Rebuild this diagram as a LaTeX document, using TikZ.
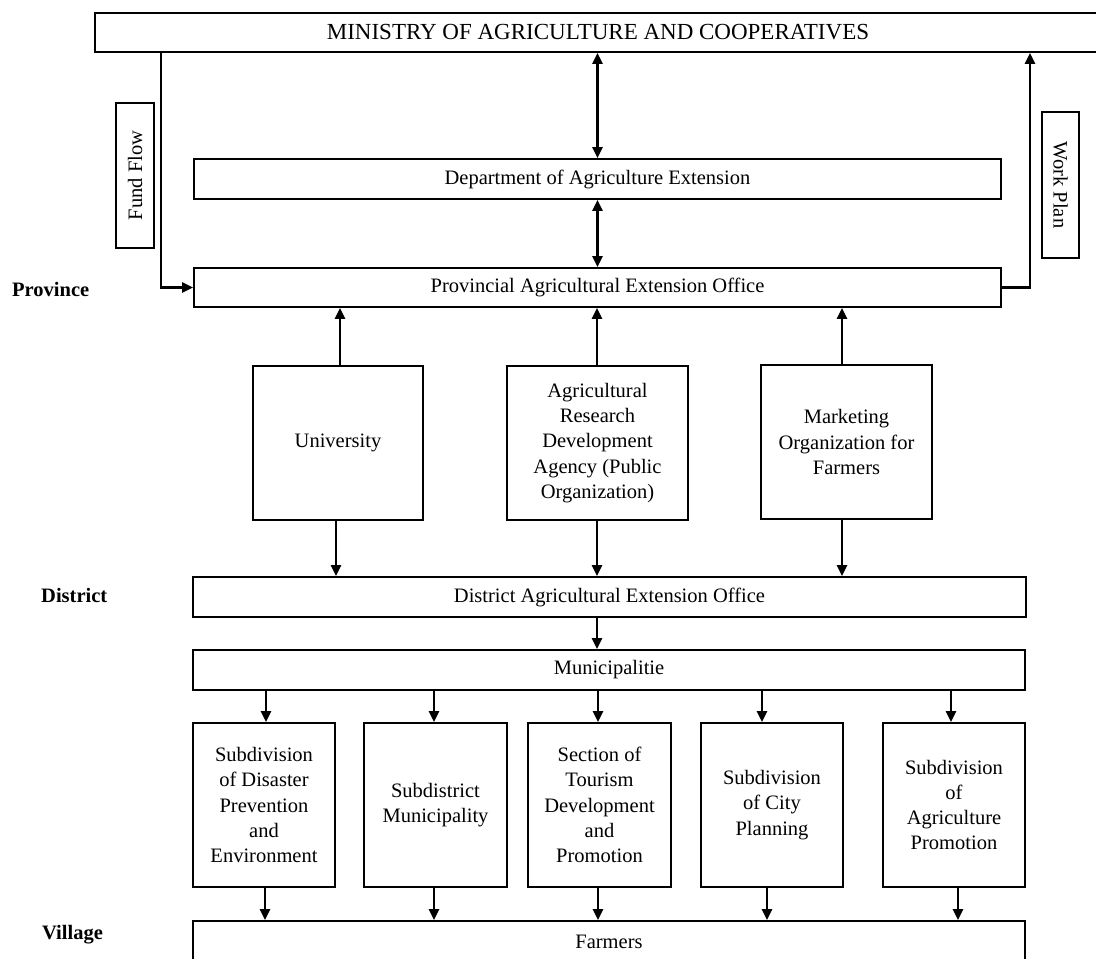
\documentclass[tikz,border=0pt]{standalone}
\usepackage{fontspec}
\setmainfont{Liberation Serif}
\usetikzlibrary{arrows.meta,calc}
\tikzset{
  box/.style={draw, line width=1.8pt, inner sep=0pt, align=center,
    font=\fontsize{20.5}{25.3}\selectfont},
  tip/.tip={Triangle[length=11pt,width=10pt]},
  arr/.style={line width=2.3pt, -tip},
  darr/.style={line width=2.3pt, tip-tip},
  lvl/.style={anchor=west, inner sep=0pt, font=\fontsize{20.5}{24}\selectfont\bfseries},
}
\newcommand{\bx}[6]{% name, x1,y1,x2,y2, text
  \node[box, minimum width={(#4)-(#2)}, minimum height={(#5)-(#3)}] (#1) at ({((#2)+(#4))/2},{((#3)+(#5))/2}) {#6};}
\begin{document}
\begin{tikzpicture}[x=1pt,y=-1pt]
\useasboundingbox (0,0) rectangle (1096,959);
\clip (0,0) rectangle (1096,959);
\fill[white] (0,0) rectangle (1096,959);

\node[box, minimum width=1006pt, minimum height=39pt, font=\fontsize{23}{27}\selectfont] (min) at (598,32.5) {MINISTRY OF AGRICULTURE AND COOPERATIVES};
\bx{dept}{194}{159}{1001}{199}{\raisebox{-2pt}{Department of Agriculture Extension}}
\bx{prov}{194}{268}{1001}{307}{\raisebox{-1pt}{Provincial Agricultural Extension Office}}
\node[box, minimum width=145pt, minimum height=38pt, rotate=90] (fund) at (135,175.5) {Fund Flow};
\node[box, minimum width=146pt, minimum height=37pt, rotate=-90] (work) at (1060.5,185) {Work Plan};

\bx{univ}{253}{366}{423}{520}{University}
\bx{arda}{507}{366}{688}{520}{Agricultural\\Research\\Development\\Agency (Public\\Organization)}
\bx{mkt}{761}{365}{932}{519}{Marketing\\Organization for\\Farmers}

\bx{dist}{193}{577}{1026}{617}{District Agricultural Extension Office}
\bx{muni}{193}{650}{1025}{690}{Municipalitie}

\bx{b1}{193}{723}{335}{887}{Subdivision\\of Disaster\\Prevention\\and\\Environment}
\bx{b2}{364}{723}{507}{887}{Subdistrict\\Municipality}
\bx{b3}{528}{723}{671}{887}{Section of\\Tourism\\Development\\and\\Promotion}
\bx{b4}{701}{723}{843}{887}{Subdivision\\of City\\Planning}
\bx{b5}{883}{723}{1025}{887}{Subdivision\\of\\Agriculture\\Promotion}
\bx{farm}{193}{921}{1025}{963}{Farmers}

\node[lvl] (lprov) at (12,289) {Province};
\node[lvl] (ldist) at (41,595) {District};
\node[lvl] (lvil) at (42,935) {Village};

% top connectors
\draw[darr] (min.south -| dept.north) -- (dept.north);
\draw[darr] (dept.south) -- (prov.north);
\coordinate (fa) at (161,0);
\draw[arr] (min.south -| fa) -- (prov.west -| fa) -- (prov.west);
\coordinate (wa) at (1030,0);
\draw[arr] (prov.east) -- (prov.east -| wa) -- (min.south -| wa);

% middle tier
\draw[arr] ([xshift=2pt]univ.north) -- ([xshift=2pt]univ.north |- prov.south);
\draw[arr] ([xshift=-2pt]univ.south) -- ([xshift=-2pt]univ.south |- dist.north);
\draw[arr] ([xshift=-0.5pt]arda.north) -- ([xshift=-0.5pt]arda.north |- prov.south);
\draw[arr] ([xshift=-0.5pt]arda.south) -- ([xshift=-0.5pt]arda.south |- dist.north);
\draw[arr] ([xshift=-4.5pt]mkt.north) -- ([xshift=-4.5pt]mkt.north |- prov.south);
\draw[arr] ([xshift=-4.5pt]mkt.south) -- ([xshift=-4.5pt]mkt.south |- dist.north);

\draw[arr] ([xshift=-12.5pt]dist.south) -- ([xshift=-12.5pt]dist.south |- muni.north);

% lower tier
\foreach \b/\ta/\tb in {b1/2/1, b2/-1.5/-1.5, b3/-1.5/-1.5, b4/-10/-5, b5/-3/4}{
  \draw[arr] ([xshift=\ta pt]\b.north |- muni.south) -- ([xshift=\ta pt]\b.north);
  \draw[arr] ([xshift=\tb pt]\b.south) -- ([xshift=\tb pt]\b.south |- farm.north);
}
\end{tikzpicture}
\end{document}
